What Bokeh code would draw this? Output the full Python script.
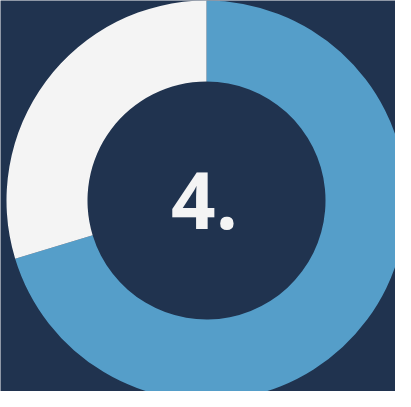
import numpy as np
from bokeh.plotting import figure
from bokeh.models import Range1d, ColumnDataSource
from bokeh.core.properties import value
from bokeh.embed import file_html
from bokeh.resources import INLINE

# data
categories = ["Achieved", "Remaining"]
shares = [70.3, 29.7]
colors = ["#559ec9", "#f4f4f4"]
center_label = ["4."]

W, H = 395, 391
p = figure(width=W, height=H, output_backend="svg", toolbar_location=None,
           x_range=Range1d(0, W), y_range=Range1d(0, H), min_border=0,
           background_fill_color="#20334f", border_fill_color="#20334f")
p.axis.visible = False
p.grid.visible = False
p.outline_line_color = None

cx, cy = 206, H - 200
total = sum(shares)
fr = np.array(shares) / total
ends = np.cumsum(fr) * 2 * np.pi
starts = ends - fr * 2 * np.pi
start_angle = np.pi / 2 - starts
end_angle = np.pi / 2 - ends
src = ColumnDataSource(dict(cat=categories, s=start_angle, e=end_angle, c=colors,
                            x=[cx] * len(categories), y=[cy] * len(categories)))
p.annular_wedge(x="x", y="y", inner_radius=119, outer_radius=200,
                start_angle="s", end_angle="e", direction="clock",
                fill_color="c", line_color=None, source=src)

p.text(x=[cx - 2], y=[H - 200], text=center_label, text_align="center",
       text_baseline="alphabetic", text_font=value("Open Sans"), text_font_style="bold",
       text_font_size="78px", text_color="#f4f4f4")

open("out.html", "w").write(file_html(p, INLINE))
